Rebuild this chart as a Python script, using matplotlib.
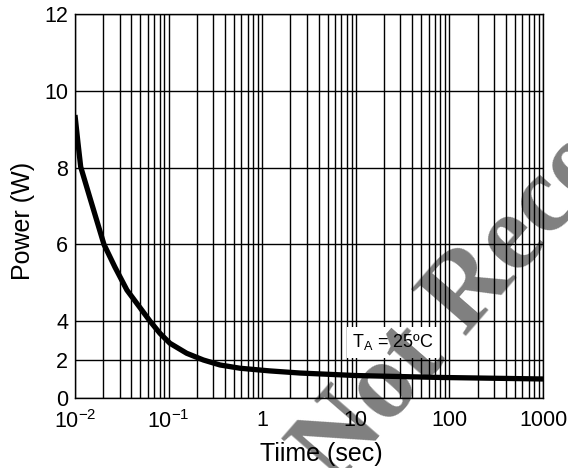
import numpy as np
import matplotlib
matplotlib.use('Agg')
import matplotlib.pyplot as plt
from matplotlib.ticker import LogLocator, NullFormatter

plt.rcParams['font.family'] = ['Liberation Sans', 'DejaVu Sans']
plt.rcParams['mathtext.fontset'] = 'custom'
plt.rcParams['mathtext.rm'] = 'Liberation Sans'
plt.rcParams['mathtext.it'] = 'Liberation Sans'

# ---------------------------------------------------------------------------
# Data (power vs time, TA = 25 C)
# ---------------------------------------------------------------------------
time_s = [0.01, 0.01077, 0.01151, 0.01446, 0.0204, 0.0267, 0.0359, 0.0456,
          0.0634, 0.0808, 0.1034, 0.156, 0.235, 0.354, 0.58, 1.21, 2.54,
          10, 79, 1000]
power_w = [9.37, 8.64, 8.02, 7.21, 6.0, 5.41, 4.81, 4.47,
           4.0, 3.37, 2.85, 2.33, 1.98, 1.72, 1.55, 1.41, 1.30,
           1.17, 1.07, 0.99]

y_ticks = [0, 2, 4, 6, 8, 10, 12]
x_ticks = [0.01, 0.1, 1, 10, 100, 1000]
x_tick_labels = ['10$^{-2}$', '10$^{-1}$', '1', '10', '100', '1000']


# the original grid squeezes 0..4 W into half the spacing of the rest
def _fwd(v):
    v = np.asarray(v, dtype=float)
    return np.where(v <= 4, v / 2.0, v - 2.0)


def _inv(p):
    p = np.asarray(p, dtype=float)
    return np.where(p <= 2, p * 2.0, p + 2.0)


fig = plt.figure(figsize=(5.68, 4.68), dpi=100)
ax = fig.add_axes([0.132, 0.1496, 0.824, 0.8204])

ax.set_xscale('log')
ax.set_yscale('function', functions=(_fwd, _inv))
ax.set_xlim(0.01, 1000)
ax.set_ylim(0, 12)

ax.set_xticks(x_ticks)
ax.set_xticklabels(x_tick_labels)
ax.xaxis.set_minor_locator(LogLocator(base=10, subs=np.arange(2, 10), numticks=20))
ax.xaxis.set_minor_formatter(NullFormatter())
ax.set_yticks(y_ticks)
ax.set_yticklabels([str(v) for v in y_ticks])
ax.yaxis.set_minor_locator(plt.NullLocator())

ax.grid(True, which='both', axis='x', color='black', linewidth=1.0)
ax.grid(True, which='major', axis='y', color='black', linewidth=1.0)
ax.set_axisbelow(True)
for sp in ax.spines.values():
    sp.set_color('black')
    sp.set_linewidth(1.0)

ax.tick_params(which='both', length=0, labelsize=15.5, colors='black')
ax.tick_params(axis='y', pad=5)
ax.tick_params(axis='x', pad=9)

ax.plot(time_s, power_w, color='black', linewidth=3.8, solid_capstyle='butt', zorder=3)

ax.text(25, 2.9, 'T$_\\mathregular{A}$ = 25\u00baC', fontsize=13, ha='center', va='center',
        zorder=4, bbox=dict(boxstyle='square,pad=0.3', facecolor='white', edgecolor='none'))

ax.set_ylabel('Power (W)', fontsize=18)
ax.set_xlabel('Tiime (sec)', fontsize=18)
ax.yaxis.set_label_coords(-0.086, 0.46)
ax.xaxis.set_label_coords(0.527, -0.115)

# watermark stamped across the chart
fig.text(0.591, -0.041, 'Not Recommended', fontsize=79, family=['Liberation Serif'],
         fontweight='bold', color='black', alpha=0.5, rotation=49,
         rotation_mode='anchor', ha='left', va='baseline', zorder=10)

fig.savefig('out.png', dpi=100)
